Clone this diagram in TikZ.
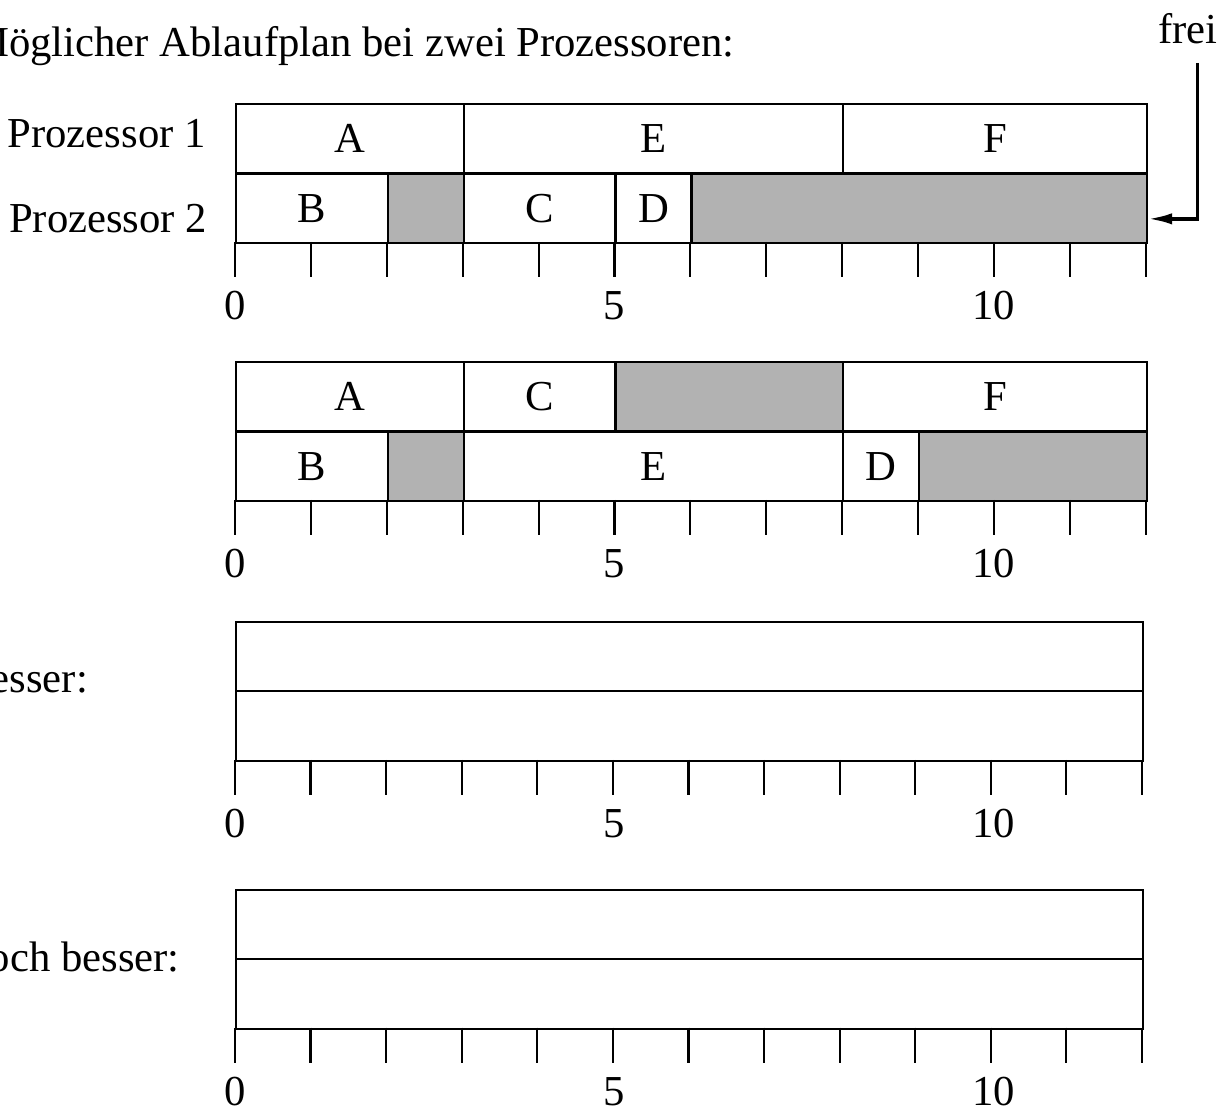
\documentclass[tikz,border=0pt]{standalone}
\usepackage{fontspec}
\setmainfont{Liberation Serif}
\usetikzlibrary{arrows,arrows.meta}
\tikzstyle{cell} = [rectangle, draw = black, line width=0.8pt, minimum height=0.915cm, inner sep=0pt, anchor=north west]
\tikzstyle{idle} = [cell, fill = black!30]
\tikzstyle{label} = [inner sep=0pt, anchor=base east]
\tikzstyle{num} = [inner sep=0pt, anchor=base]
\tikzstyle{tick} = [line width=0.8pt]
\tikzstyle{arrow} = [-{Latex[length=0.32cm,width=0.15cm]}, line width=1.3pt]

\begin{document}
\begin{tikzpicture}[font=\fontsize{16pt}{19pt}\selectfont]
	\useasboundingbox (-3.096,0) rectangle (13.123,-14.598);
	\node (title) [label] at (6.59,-0.751) {Möglicher Ablaufplan bei zwei Prozessoren:};
	\node (frei) [anchor=base] at (12.556,-0.567) {frei};
	\node (proc1) [label] at (-0.38,-1.95) {Prozessor 1};
	\node (proc2) [label] at (-0.36,-3.057) {Prozessor 2};
	\node (bess) [label] at (-1.93,-9.13) {besser:};
	\node (nbess) [label] at (-0.72,-12.806) {Noch besser:};
	% Plan 1
	\begin{scope}[yshift=-1.357cm]
	\node (a1) [cell, minimum width=3cm] at (0,0) {A};
	\node (e1) [cell, minimum width=5cm] at (3,0) {E};
	\node (f1) [cell, minimum width=4cm] at (8,0) {F};
	\node (b1) [cell, minimum width=2cm] at (0,-0.915) {B};
	\node (i1a) [idle, minimum width=1cm] at (2,-0.915) {};
	\node (c1) [cell, minimum width=2cm] at (3,-0.915) {C};
	\node (d1) [cell, minimum width=1cm] at (5,-0.915) {D};
	\node (i1b) [idle, minimum width=6cm] at (6,-0.915) {};
	\foreach \t in {0,...,12}
		\draw [tick] (\t,-1.83) -- ++(0,-0.46);
	\foreach \n in {0,5,10}
		\node (p1n\n) [num] at (\n,-2.855) {\n};
	\end{scope}
	% Plan 2
	\begin{scope}[yshift=-4.756cm]
	\node (a2) [cell, minimum width=3cm] at (0,0) {A};
	\node (c2) [cell, minimum width=2cm] at (3,0) {C};
	\node (i2a) [idle, minimum width=3cm] at (5,0) {};
	\node (f2) [cell, minimum width=4cm] at (8,0) {F};
	\node (b2) [cell, minimum width=2cm] at (0,-0.915) {B};
	\node (i2b) [idle, minimum width=1cm] at (2,-0.915) {};
	\node (e2) [cell, minimum width=5cm] at (3,-0.915) {E};
	\node (d2) [cell, minimum width=1cm] at (8,-0.915) {D};
	\node (i2c) [idle, minimum width=3cm] at (9,-0.915) {};
	\foreach \t in {0,...,12}
		\draw [tick] (\t,-1.83) -- ++(0,-0.46);
	\foreach \n in {0,5,10}
		\node (p2n\n) [num] at (\n,-2.855) {\n};
	\end{scope}
	% Plan 3
	\begin{scope}[yshift=-8.18cm]
	\node (r31) [cell, minimum width=11.95cm] at (0,0) {};
	\node (r32) [cell, minimum width=11.95cm] at (0,-0.915) {};
	\foreach \t in {0,...,12}
		\draw [tick] (\t*11.95/12,-1.83) -- ++(0,-0.46);
	\foreach \n in {0,5,10}
		\node (p3n\n) [num] at (\n,-2.855) {\n};
	\end{scope}
	% Plan 4
	\begin{scope}[yshift=-11.71cm]
	\node (r41) [cell, minimum width=11.95cm] at (0,0) {};
	\node (r42) [cell, minimum width=11.95cm] at (0,-0.915) {};
	\foreach \t in {0,...,12}
		\draw [tick] (\t*11.95/12,-1.83) -- ++(0,-0.46);
	\foreach \n in {0,5,10}
		\node (p4n\n) [num] at (\n,-2.855) {\n};
	\end{scope}
	\coordinate (freitop) at (12.68,-0.83);
	\draw [arrow] (freitop) |- ([yshift=-0.14cm]i1b.east);
\end{tikzpicture}
\end{document}
